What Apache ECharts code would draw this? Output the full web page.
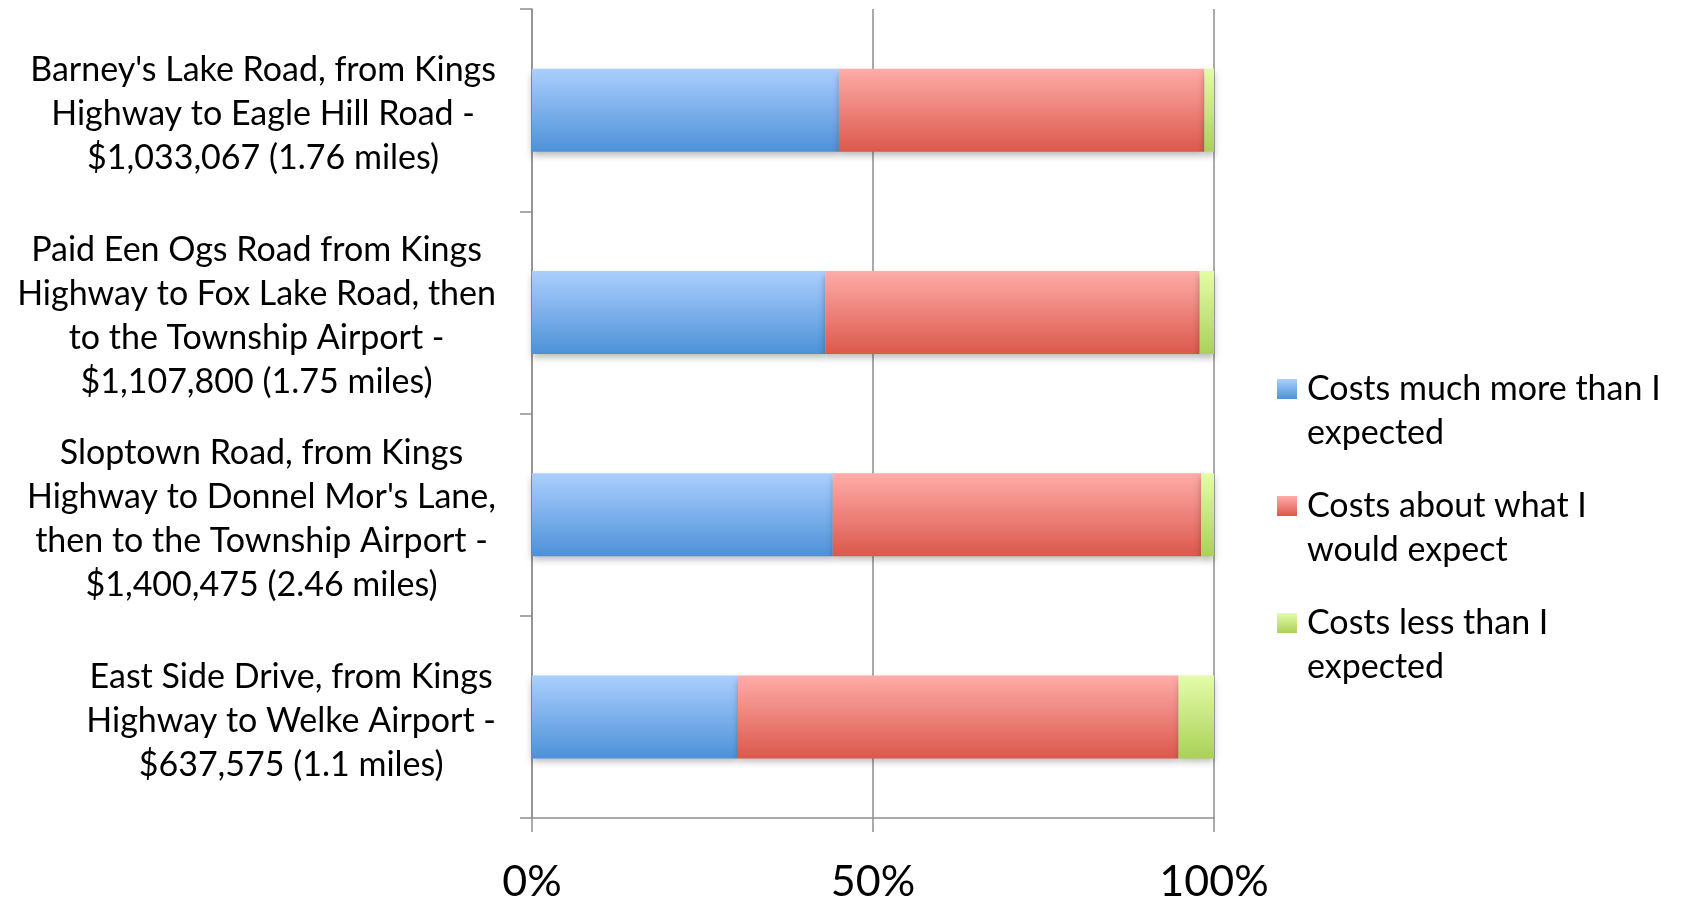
<!DOCTYPE html>
<html>
<head>
<meta charset="utf-8">
<script src="https://cdn.jsdelivr.net/npm/echarts@6/dist/echarts.min.js"></script>
<style>
html,body{margin:0;padding:0;background:#fff;}
#chart{width:1683px;height:899px;}
</style>
</head>
<body>
<div id="chart"></div>
<script>
// Categories (top to bottom)
var categories = [
  "Barney's Lake Road, from Kings\nHighway to Eagle Hill Road -\n$1,033,067 (1.76 miles)",
  "Paid Een Ogs Road from Kings\nHighway to Fox Lake Road, then\nto the Township Airport -\n$1,107,800 (1.75 miles)",
  "Sloptown Road, from Kings\nHighway to Donnel Mor's Lane,\nthen to the Township Airport -\n$1,400,475 (2.46 miles)",
  "East Side Drive, from Kings\nHighway to Welke Airport -\n$637,575 (1.1 miles)"
];
// Series names
var seriesNames = [
  "Costs much more than I\nexpected",
  "Costs about what I\nwould expect",
  "Costs less than I\nexpected"
];
// Percent values per category (top to bottom)
var muchMore = [45.0, 43.0, 44.1, 30.2];
var aboutWhat = [53.6, 54.9, 54.0, 64.6];
var lessThan = [1.4, 2.1, 1.9, 5.2];
// Axis ticks
var xTicks = [0, 50, 100];

var FONT = 'Lato';

function grad(top, bottom) {
  return new echarts.graphic.LinearGradient(0, 0, 0, 1, [
    {offset: 0, color: top},
    {offset: 1, color: bottom}
  ]);
}
var colors = [
  grad('#abcffe', '#4d91d8'),
  grad('#ffaca9', '#db584c'),
  grad('#e4fcaa', '#abd158')
];
var values = [muchMore, aboutWhat, lessThan];

var chart = echarts.init(document.getElementById('chart'));
var series = seriesNames.map(function (name, i) {
  return {
    name: name,
    type: 'bar',
    stack: 'total',
    barWidth: 83,
    data: values[i],
    itemStyle: {
      color: colors[i],
      shadowBlur: 7,
      shadowOffsetY: 4,
      shadowColor: 'rgba(0,0,0,0.28)'
    },
    emphasis: {disabled: true}
  };
});

chart.setOption({
  backgroundColor: '#ffffff',
  animation: false,
  grid: {left: 532, right: 469, top: 9, bottom: 81, outerBoundsMode: 'none'},
  legend: {
    orient: 'vertical',
    left: 1277,
    top: 323,
    padding: 0,
    itemGap: -15,
    itemWidth: 20,
    itemHeight: 20,
    icon: 'rect',
    selectedMode: false,
    formatter: function (name) { return '\n' + name; },
    textStyle: {
      fontFamily: FONT,
      fontSize: 34,
      lineHeight: 44,
      color: '#000',
      padding: [0, 0, 0, 5]
    },
    data: seriesNames
  },
  xAxis: {
    type: 'value',
    min: xTicks[0],
    max: xTicks[xTicks.length - 1],
    interval: xTicks[1] - xTicks[0],
    axisLine: {show: true, lineStyle: {color: '#8e8e8e', width: 1.5}},
    axisTick: {show: true, length: 14, lineStyle: {color: '#8e8e8e', width: 1.5}},
    splitLine: {show: true, lineStyle: {color: '#8e8e8e', width: 1.5}},
    axisLabel: {
      formatter: '{value}%',
      fontFamily: FONT,
      fontSize: 43,
      color: '#000',
      margin: 43
    }
  },
  yAxis: {
    type: 'category',
    inverse: true,
    data: categories,
    axisLine: {show: true, lineStyle: {color: '#8e8e8e', width: 1.5}},
    axisTick: {show: true, length: 12, lineStyle: {color: '#8e8e8e', width: 1.5}},
    axisLabel: {
      margin: 36,
      interval: 0,
      padding: [8, 0, 0, 0],
      formatter: function (v) {
        return v.split('\n').map(function (s) { return '{c|' + s + '}'; }).join('\n');
      },
      rich: {
        c: {align: 'center', fontFamily: FONT, fontSize: 34, lineHeight: 44, color: '#000'}
      }
    }
  },
  series: series
});
</script>
</body>
</html>
